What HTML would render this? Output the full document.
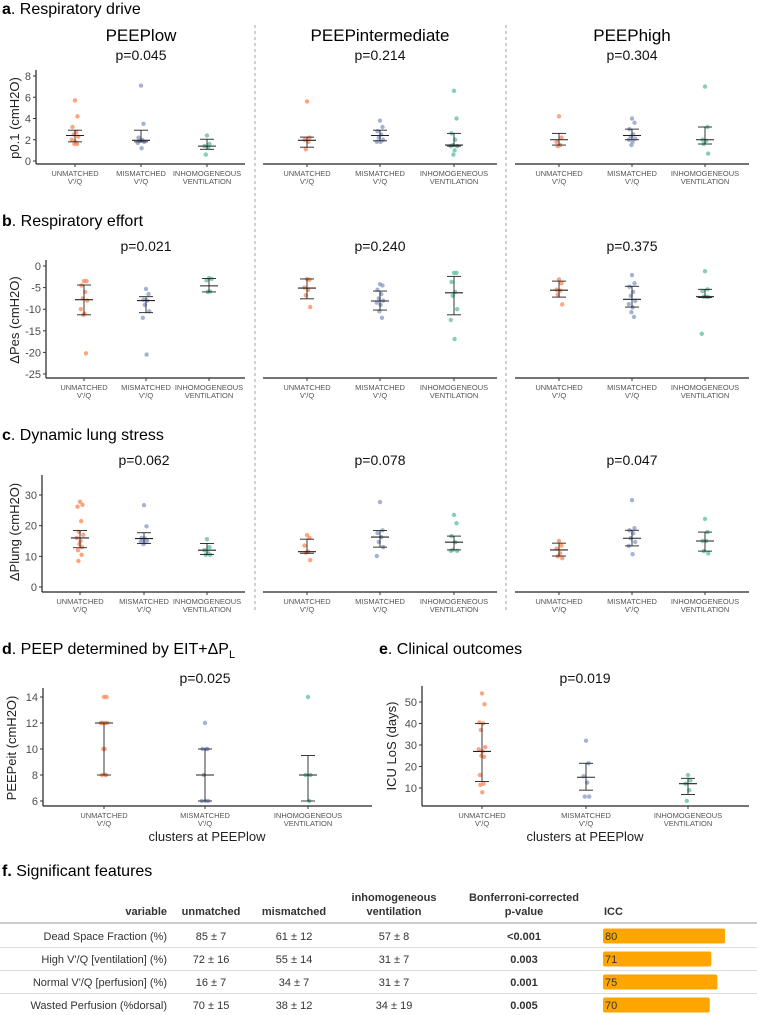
<!DOCTYPE html>
<html><head><meta charset="utf-8">
<style>
body{margin:0;background:#fff;}
svg{display:block;font-family:"Liberation Sans",sans-serif;}
</style></head>
<body>
<svg id="fig" width="757" height="1015" viewBox="0 0 757 1015" xmlns="http://www.w3.org/2000/svg">
<rect width="757" height="1015" fill="#fff"/>
<g id="static">
<text x="2" y="14" font-size="16"><tspan font-weight="bold">a</tspan>. Respiratory drive</text>
<text x="2" y="226" font-size="16"><tspan font-weight="bold">b</tspan>. Respiratory effort</text>
<text x="2" y="440" font-size="16"><tspan font-weight="bold">c</tspan>. Dynamic lung stress</text>
<text x="2" y="654" font-size="16"><tspan font-weight="bold">d</tspan>. PEEP determined by EIT+ΔP<tspan font-size="11" dy="4">L</tspan></text>
<text x="379" y="654" font-size="16"><tspan font-weight="bold">e</tspan>. Clinical outcomes</text>
<text x="141" y="41" font-size="17" text-anchor="middle">PEEPlow</text>
<text x="380" y="41" font-size="17" text-anchor="middle">PEEPintermediate</text>
<text x="632" y="41" font-size="17" text-anchor="middle">PEEPhigh</text>
<line x1="255" y1="25" x2="255" y2="612" stroke="#888" stroke-dasharray="3,3" stroke-width="0.8"/>
<line x1="506" y1="25" x2="506" y2="612" stroke="#888" stroke-dasharray="3,3" stroke-width="0.8"/>
<text transform="translate(19,118) rotate(-90)" font-size="13" text-anchor="middle" fill="#222">p0.1 (cmH2O)</text>
<text transform="translate(19,320) rotate(-90)" font-size="13" text-anchor="middle" fill="#222">ΔPes (cmH2O)</text>
<text transform="translate(19,532) rotate(-90)" font-size="13" text-anchor="middle" fill="#222">ΔPlung (cmH2O)</text>
<text transform="translate(16,748) rotate(-90)" font-size="13" text-anchor="middle" fill="#222">PEEPeit (cmH2O)</text>
<text transform="translate(396,746) rotate(-90)" font-size="13" text-anchor="middle" fill="#222">ICU LoS (days)</text>
<text x="207" y="841" font-size="13" text-anchor="middle" fill="#222">clusters at PEEPlow</text>
<text x="585" y="841" font-size="13" text-anchor="middle" fill="#222">clusters at PEEPlow</text>
<text x="2" y="876" font-size="16"><tspan font-weight="bold">f.</tspan> Significant features</text>
</g>
<g id="plots"></g>
<g id="table"></g>
</svg>
<script>
// ---- data: per panel, per group: points, median, q1, q3 ----
const categories = ["UNMATCHED|V'/Q","MISMATCHED|V'/Q","INHOMOGENEOUS|VENTILATION"];
const pValues = ["p=0.045","p=0.214","p=0.304","p=0.021","p=0.240","p=0.375","p=0.062","p=0.078","p=0.047","p=0.025","p=0.019"];

const aLowPts = [[5.7,4.2,3.2,2.7,2.5,2.3,2.0,1.8,1.6,1.6],[7.1,3.5,2.2,2.0,1.9,1.8,1.7,1.2],[2.4,1.6,1.4,1.3,0.6]];
const aLowStats = [[2.4,1.8,2.9],[1.95,1.8,2.9],[1.4,1.1,2.05]];
const aMidPts = [[5.6,2.2,2.0,1.8,1.1],[3.8,3.2,2.8,2.5,2.2,2.0,1.8,1.8],[6.6,4.0,2.6,2.0,1.5,1.4,1.4,1.0,0.6]];
const aMidStats = [[1.95,1.3,2.25],[2.4,1.9,2.9],[1.5,1.4,2.6]];
const aHighPts = [[4.2,2.2,1.8,1.5,1.4],[4.0,3.6,3.0,2.5,2.3,2.1,2.0,1.8,1.5],[7.0,3.2,2.0,1.9,1.6,0.7]];
const aHighStats = [[2.0,1.5,2.6],[2.4,2.0,3.0],[2.0,1.6,3.2]];

const bLowPts = [[-3.5,-3.5,-4.5,-6,-7.5,-8,-10,-11,-11.3,-20.2],[-5.3,-6.5,-7.8,-8,-9,-10.5,-12,-20.5],[-2.8,-3,-3.3,-5.9,-6]];
const bLowStats = [[-7.8,-11.3,-4.4],[-8,-10.8,-7.1],[-4.6,-6,-2.9]];
const bMidPts = [[-3,-3.2,-5,-5.5,-6.8,-9.5],[-4.2,-4.5,-5.5,-6.5,-7.5,-8,-8.5,-9,-10.5,-12],[-1.6,-1.6,-3.7,-6,-6.9,-10,-12.5,-16.9]];
const bMidStats = [[-5.1,-7.6,-3],[-8.1,-10.2,-5.8],[-6.2,-11.3,-2.4]];
const bHighPts = [[-3.1,-4,-5.5,-5.7,-6.6,-8.9],[-2.1,-4,-4.8,-6,-6.9,-8.1,-8.8,-9.6,-10.7,-11.8],[-1.2,-5.4,-5.8,-7.1,-7.1,-7.2,-15.7]];
const bHighStats = [[-5.6,-7.2,-3.5],[-7.7,-9.5,-4.7],[-7.1,-7.3,-5.4]];

const cLowPts = [[27.8,26.8,26.2,21.5,18,17,16,15,14,13,12,10.5,8.5],[26.7,19.8,16,15.8,15.5,15,14.8,14.5,14],[15.6,13,12,11,10.5,10.5]];
const cLowStats = [[16,12.8,18.4],[15.8,14.2,17.7],[12,10.6,14.2]];
const cMidPts = [[16.9,16,13.5,11.5,11.2,8.8],[27.7,18.5,17.6,16.3,14.7,13,10.1],[23.5,20.8,16.6,14.6,12.1,11.8,11.8]];
const cMidStats = [[11.5,11,15.6],[16.3,13,18.4],[14.6,12.1,16.6]];
const cHighPts = [[15,13.5,12.5,11,10,9.4],[28.3,19.2,18.5,17.5,15.9,14.7,13.4,10.7],[22.2,17.9,15,15,11.7,11]];
const cHighStats = [[12.1,10.1,14.3],[15.9,13.4,18.5],[15,11.7,17.9]];

const dPts = [[14,14,12,12,12,12,12,10,10,8,8,8],[12,10,10,10,8,6,6,6],[14,8,8,6]];
const dStats = [[12,8,12],[8,6,10],[8,6,9.5]];
const ePts = [[54,49,40.5,40,37,29,28,27,25,24.5,16,12,11.5,8],[32,21.5,15.5,12.5,6,6],[16,13.5,12,9,4]];
const eStats = [[27,13,40],[15,9,21.5],[12,7,14.5]];

const aTicks=[0,2,4,6,8], bTicks=[0,-5,-10,-15,-20,-25], cTicks=[0,10,20,30], dTicks=[6,8,10,12,14], eTicks=[10,20,30,40,50];

const tblHeaders=[["","variable"],["","unmatched"],["","mismatched"],["inhomogeneous","ventilation"],["Bonferroni-corrected","p-value"]];
const tblVars=["Dead Space Fraction (%)","High V'/Q [ventilation] (%)","Normal V'/Q [perfusion] (%)","Wasted Perfusion (%dorsal)"];
const tblUnm=["85 ± 7","72 ± 16","16 ± 7","70 ± 15"];
const tblMis=["61 ± 12","55 ± 14","34 ± 7","38 ± 12"];
const tblInh=["57 ± 8","31 ± 7","31 ± 7","34 ± 19"];
const tblP=["<0.001","0.003","0.001","0.005"];
const tblIcc=[80,71,75,70];

// ---- drawing ----
const NS="http://www.w3.org/2000/svg";
const plots=document.getElementById('plots');
const colors=["#FC8D62","#8DA0CB","#66C2A5"];
function mk(tag,attrs,parent){const e=document.createElementNS(NS,tag);for(const k in attrs)e.setAttribute(k,attrs[k]);(parent||plots).appendChild(e);return e;}
const jit=[0,2.5,-2.5,1.2,-1.2,3.2,-3.2,0.6,-0.6,2,-2,1.6,-1.6,0.3];

function panel(name,o){
  const g=mk('g',{});
  
  
  const ys=v=>o.p0+(v-o.v0)*(o.p1-o.p0)/(o.v1-o.v0);
  // x axis line
  const xl=mk('line',{x1:o.x0,x2:o.x1,y1:o.axisY,y2:o.axisY,stroke:'#222','stroke-width':1.2},g);
  
  
  if(o.ticks){
    const yl=mk('line',{x1:o.x0,x2:o.x0,y1:o.axisTop,y2:o.axisY,stroke:'#222','stroke-width':1.2},g);
    
    
    o.ticks.forEach(t=>{
      const y=ys(t);
      mk('line',{x1:o.x0-3,x2:o.x0,y1:y,y2:y,stroke:'#333','stroke-width':1},g);
      const tx=mk('text',{x:o.x0-5,y:y+4,'font-size':11,'text-anchor':'end',fill:'#4d4d4d'},g);
      tx.textContent=t;
      
      
    });
  }
  o.cx.forEach((cx,i)=>{
    mk('line',{x1:cx,x2:cx,y1:o.axisY,y2:o.axisY+3,stroke:'#333','stroke-width':1},g);
    const parts=categories[i].split('|');
    parts.forEach((p,k)=>{
      const t=mk('text',{x:cx,y:o.axisY+12+k*8,'font-size':7.5,'text-anchor':'middle',fill:'#555'},g);
      t.textContent=p;
      
      
    });
    o.pts[i].forEach((v,k)=>{
      const c=mk('circle',{cx:cx+jit[k%jit.length],cy:ys(v),r:2.2,fill:colors[i],'fill-opacity':0.8},g);
      
      
    });
    const [md,q1,q3]=o.stats[i];
    const eb=mk('g',{},g);
    
    
    mk('line',{x1:cx,x2:cx,y1:ys(q1),y2:ys(q3),stroke:'#222','stroke-width':0.9},eb);
    mk('line',{x1:cx-7,x2:cx+7,y1:ys(q1),y2:ys(q1),stroke:'#222','stroke-width':0.9},eb);
    mk('line',{x1:cx-7,x2:cx+7,y1:ys(q3),y2:ys(q3),stroke:'#222','stroke-width':0.9},eb);
    mk('line',{x1:cx-9,x2:cx+9,y1:ys(md),y2:ys(md),stroke:'#222','stroke-width':1.1},eb);
  });
  const pt=mk('text',{x:o.pX,y:o.pY,'font-size':14,'text-anchor':'middle',fill:'#111'},g);
  pt.textContent=o.p;
  
  
}
const midCx=[307,380,454], highCx=[559,632,705];
// row a
panel('panel-a-peeplow',{x0:36,x1:245,cx:[75,141,207],axisY:164,axisTop:70,v0:0,p0:161,v1:8,p1:76,ticks:aTicks,pts:aLowPts,stats:aLowStats,p:pValues[0],pX:141,pY:60});
panel('panel-a-peepintermediate',{x0:263,x1:497,cx:midCx,axisY:164,v0:0,p0:161,v1:8,p1:76,pts:aMidPts,stats:aMidStats,p:pValues[1],pX:380,pY:60});
panel('panel-a-peephigh',{x0:515,x1:749,cx:highCx,axisY:164,v0:0,p0:161,v1:8,p1:76,pts:aHighPts,stats:aHighStats,p:pValues[2],pX:632,pY:60});
// row b
panel('panel-b-peeplow',{x0:46,x1:245,cx:[84,146,209],axisY:378,axisTop:260,v0:0,p0:266,v1:-25,p1:374,ticks:bTicks,pts:bLowPts,stats:bLowStats,p:pValues[3],pX:146,pY:251});
panel('panel-b-peepintermediate',{x0:263,x1:497,cx:midCx,axisY:378,v0:0,p0:266,v1:-25,p1:374,pts:bMidPts,stats:bMidStats,p:pValues[4],pX:380,pY:251});
panel('panel-b-peephigh',{x0:515,x1:749,cx:highCx,axisY:378,v0:0,p0:266,v1:-25,p1:374,pts:bHighPts,stats:bHighStats,p:pValues[5],pX:632,pY:251});
// row c
panel('panel-c-peeplow',{x0:42,x1:245,cx:[80,144,207],axisY:592,axisTop:475,v0:0,p0:587,v1:30,p1:495,ticks:cTicks,pts:cLowPts,stats:cLowStats,p:pValues[6],pX:144,pY:465});
panel('panel-c-peepintermediate',{x0:263,x1:497,cx:midCx,axisY:592,v0:0,p0:587,v1:30,p1:495,pts:cMidPts,stats:cMidStats,p:pValues[7],pX:380,pY:465});
panel('panel-c-peephigh',{x0:515,x1:749,cx:highCx,axisY:592,v0:0,p0:587,v1:30,p1:495,pts:cHighPts,stats:cHighStats,p:pValues[8],pX:632,pY:465});
// d, e
panel('panel-d',{x0:43,x1:372,cx:[104,205,308],axisY:806,axisTop:688,v0:6,p0:801,v1:14,p1:697,ticks:dTicks,pts:dPts,stats:dStats,p:pValues[9],pX:205,pY:683});
panel('panel-e',{x0:422,x1:749,cx:[482,586,688],axisY:806,axisTop:686,v0:10,p0:788,v1:50,p1:702,ticks:eTicks,pts:ePts,stats:eStats,p:pValues[10],pX:585,pY:683});

// ---- table ----
const tb=document.getElementById('table');


function tt(x,y,s,anchor,bold,name){const t=mk('text',{x:x,y:y,'font-size':11,'text-anchor':anchor,fill:'#333','font-weight':bold?'bold':'normal'},tb);t.textContent=s;return t;}
const hx=[167,211,294,394,524];
const ha=['end','middle','middle','middle','middle'];
tblHeaders.forEach((h,i)=>{if(h[0])tt(hx[i],901,h[0],ha[i],true,'table-header');tt(hx[i],915,h[1],ha[i],true,'table-header');});
tt(604,915,'ICC','start',true,'table-header');
mk('line',{x1:0,x2:757,y1:923,y2:923,stroke:'#bbb','stroke-width':1.5},tb);
const rowY=[936,959,982,1005];
const barX0=603, barPerUnit=122/80;
tblVars.forEach((v,i)=>{
  const y=rowY[i];
  tt(167,y+4,v,'end',false,'table-variable');
  tt(211,y+4,tblUnm[i],'middle',false,'table-cell');
  tt(294,y+4,tblMis[i],'middle',false,'table-cell');
  tt(394,y+4,tblInh[i],'middle',false,'table-cell');
  tt(524,y+4,tblP[i],'middle',true,'table-pvalue');
  const b=mk('rect',{x:barX0,y:y-7.5,width:tblIcc[i]*barPerUnit,height:15,rx:2,fill:'#FFA500'},tb);
  
  
  tt(605,y+4,String(tblIcc[i]),'start',false,'icc-value');
  if(i<3) mk('line',{x1:0,x2:757,y1:y+11.5,y2:y+11.5,stroke:'#ddd','stroke-width':1},tb);
});
</script>
</body></html>
